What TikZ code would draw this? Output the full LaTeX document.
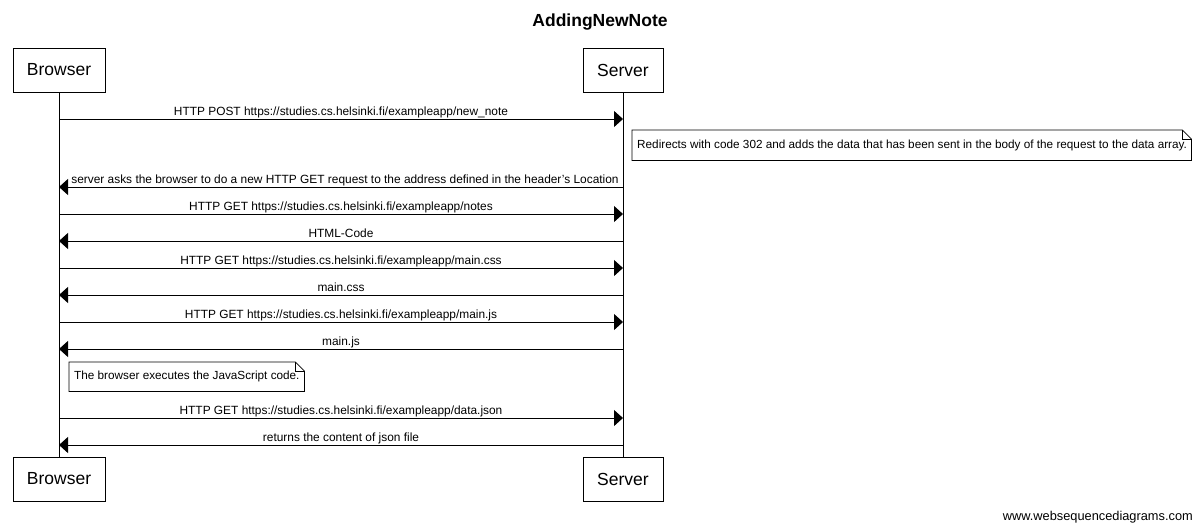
\documentclass[tikz,border=0pt]{standalone}
\usepackage{fontspec}
\setmainfont{Liberation Sans}
\usetikzlibrary{arrows.meta}
\begin{document}
\begin{tikzpicture}[x=1pt,y=-1pt,
  actor/.style={draw, line width=0.9pt, minimum height=44pt, inner sep=0pt,
    font=\fontsize{17.5}{20}\selectfont},
  msg/.style={line width=0.9pt, -{Triangle[length=9pt,width=16pt]}},
  lbl/.style={font=\fontsize{11.9}{14}\selectfont, anchor=base, yshift=3.5pt, inner sep=0pt},
  notebox/.style={inner sep=0pt, anchor=north west},
  notetext/.style={font=\fontsize{11.75}{13}\selectfont, anchor=west, inner sep=0pt, xshift=5pt},
  notefold/.style={line width=0.8pt},
  life/.style={line width=0.8pt}
]
\useasboundingbox (0,0) rectangle (1200,530);
\node[font=\bfseries\fontsize{17.5}{20}\selectfont, anchor=base] (title) at (600,27) {AddingNewNote};

\node[actor, minimum width=92pt] (B1) at (59,70) {Browser};
\node[actor, minimum width=80pt] (S1) at (623,70) {Server};
\node[actor, minimum width=92pt] (B2) at (59,479) {Browser};
\node[actor, minimum width=80pt] (S2) at (623,479) {Server};

\draw[life] (B1.south) -- (B2.north);
\draw[life] (S1.south) -- (S2.north);

\foreach \i/\y in {1/119,2/187,3/214,4/241,5/268,6/295,7/322,8/349,9/418,10/445}{
  \coordinate (b\i) at (59,\y);
  \coordinate (s\i) at (623,\y);
}

\draw[msg] (b1) -- node[lbl] {HTTP POST https://studies.cs.helsinki.fi/exampleapp/new\_note} (s1);
\node[notebox, minimum width=559pt, minimum height=30pt] (N1) at (632,130) {};
\node[notetext] (T1) at (N1.west) {Redirects with code 302 and adds the data that has been sent in the body of the request to the data array.};
\draw[notefold] (N1.north west) -- ([xshift=-9pt]N1.north east) -- ([yshift=-9pt]N1.north east) -- (N1.south east) -- (N1.south west) -- cycle;
\draw[notefold] ([xshift=-9pt]N1.north east) -- ([xshift=-9pt,yshift=-9pt]N1.north east) -- ([yshift=-9pt]N1.north east);

\draw[msg] (s2) -- node[lbl, xshift=4pt] {server asks the browser to do a new HTTP GET request to the address defined in the header's Location} (b2);
\draw[msg] (b3) -- node[lbl] {HTTP GET https://studies.cs.helsinki.fi/exampleapp/notes} (s3);
\draw[msg] (s4) -- node[lbl] {HTML-Code} (b4);
\draw[msg] (b5) -- node[lbl] {HTTP GET https://studies.cs.helsinki.fi/exampleapp/main.css} (s5);
\draw[msg] (s6) -- node[lbl] {main.css} (b6);
\draw[msg] (b7) -- node[lbl] {HTTP GET https://studies.cs.helsinki.fi/exampleapp/main.js} (s7);
\draw[msg] (s8) -- node[lbl] {main.js} (b8);

\node[notebox, minimum width=235pt, minimum height=29pt] (N2) at (69,362) {};
\node[notetext] (T2) at (N2.west) {The browser executes the JavaScript code.};
\draw[notefold] (N2.north west) -- ([xshift=-9pt]N2.north east) -- ([yshift=-9pt]N2.north east) -- (N2.south east) -- (N2.south west) -- cycle;
\draw[notefold] ([xshift=-9pt]N2.north east) -- ([xshift=-9pt,yshift=-9pt]N2.north east) -- ([yshift=-9pt]N2.north east);

\draw[msg] (b9) -- node[lbl] {HTTP GET https://studies.cs.helsinki.fi/exampleapp/data.json} (s9);
\draw[msg] (s10) -- node[lbl] {returns the content of json file} (b10);

\node[font=\fontsize{12.8}{14}\selectfont, anchor=base east, inner sep=0pt] (wm) at (1193,520) {www.websequencediagrams.com};
\end{tikzpicture}
\end{document}
